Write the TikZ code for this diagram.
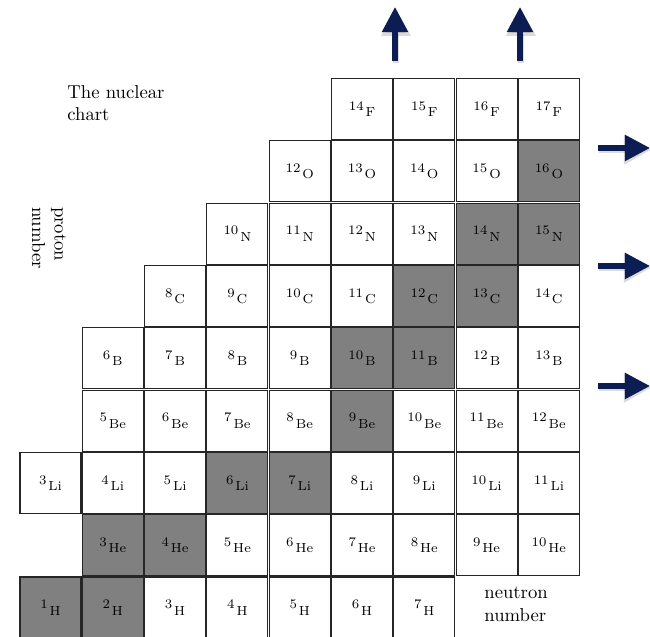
\documentclass[tikz,border=0pt]{standalone}
\usetikzlibrary{arrows.meta}
\definecolor{navy}{HTML}{0B1D52}
\definecolor{stablegray}{HTML}{808080}
\tikzset{
  cell/.style={draw=black!85, line width=0.6pt, minimum size=32.6pt, inner sep=0pt,
    font=\scriptsize},
  label/.style={font=\normalsize, align=left, inner sep=0pt},
  bigarrow/.style={draw=navy, line width=2.8pt, -{Triangle[width=13.5pt,length=13.5pt]}, navy},
  arrowshade/.style={draw=black, line width=3.6pt, opacity=0.14,
     -{Triangle[width=15pt,length=14.5pt]}},
}
% stable isotopes are shaded grey
\foreach \s in {1H,2H,3He,4He,6Li,7Li,9Be,10B,11B,12C,13C,14N,15N,16O}{
  \expandafter\xdef\csname stab\s\endcsname{}}
% isotope label: mass number raised before the element symbol
\newcommand\isolabel[2]{\raisebox{3.4pt}{#1}\kern1pt#2}
\begin{document}
\begin{tikzpicture}[x=0.535pt,y=-0.535pt]
\useasboundingbox (0,0) rectangle (650,637);

% rows: proton row / element / first column / first mass / count
\foreach \r/\el/\cz/\mz/\n in {0/H/0/1/7, 1/He/1/3/8, 2/Li/0/3/9, 3/Be/1/5/8,
    4/B/1/6/8, 5/C/2/8/7, 6/N/3/10/6, 7/O/4/12/5, 8/F/5/14/4}{
  \foreach \k in {1,...,\n}{
    \pgfmathtruncatemacro\col{\cz+\k-1}
    \pgfmathtruncatemacro\m{\mz+\k-1}
    \ifcsname stab\m\el\endcsname\def\fillc{stablegray}\else\def\fillc{white}\fi
    \node[cell, fill=\fillc] (n\m\el) at (50.5+62.3*\col, 607.5-62.3*\r)
      {\isolabel{\m}{\el}};
  }
}

% axis captions
\node[label, anchor=north west] (title) at (67,85) {The nuclear\\chart};
\node[label, rotate=-90] (ylab) at (49,238) {proton\\number};
\node[label, anchor=north west] (xlab) at (484,587) {neutron\\number};

% arrows leaving the chart
\coordinate (ua1) at (395,61);  \coordinate (ub1) at (395,7);
\coordinate (ua2) at (520,61);  \coordinate (ub2) at (520,7);
\coordinate (ra1) at (598,148); \coordinate (rb1) at (650,148);
\coordinate (ra2) at (598,266); \coordinate (rb2) at (650,266);
\coordinate (ra3) at (598,386); \coordinate (rb3) at (650,386);
\foreach \a/\b in {ua1/ub1, ua2/ub2, ra1/rb1, ra2/rb2, ra3/rb3}{
  \begin{scope}[transform canvas={shift={(0.5pt,-1pt)}}]
    \draw[arrowshade] (\a) -- (\b);
  \end{scope}
  \draw[bigarrow] (\a) -- (\b);
}
\end{tikzpicture}
\end{document}
